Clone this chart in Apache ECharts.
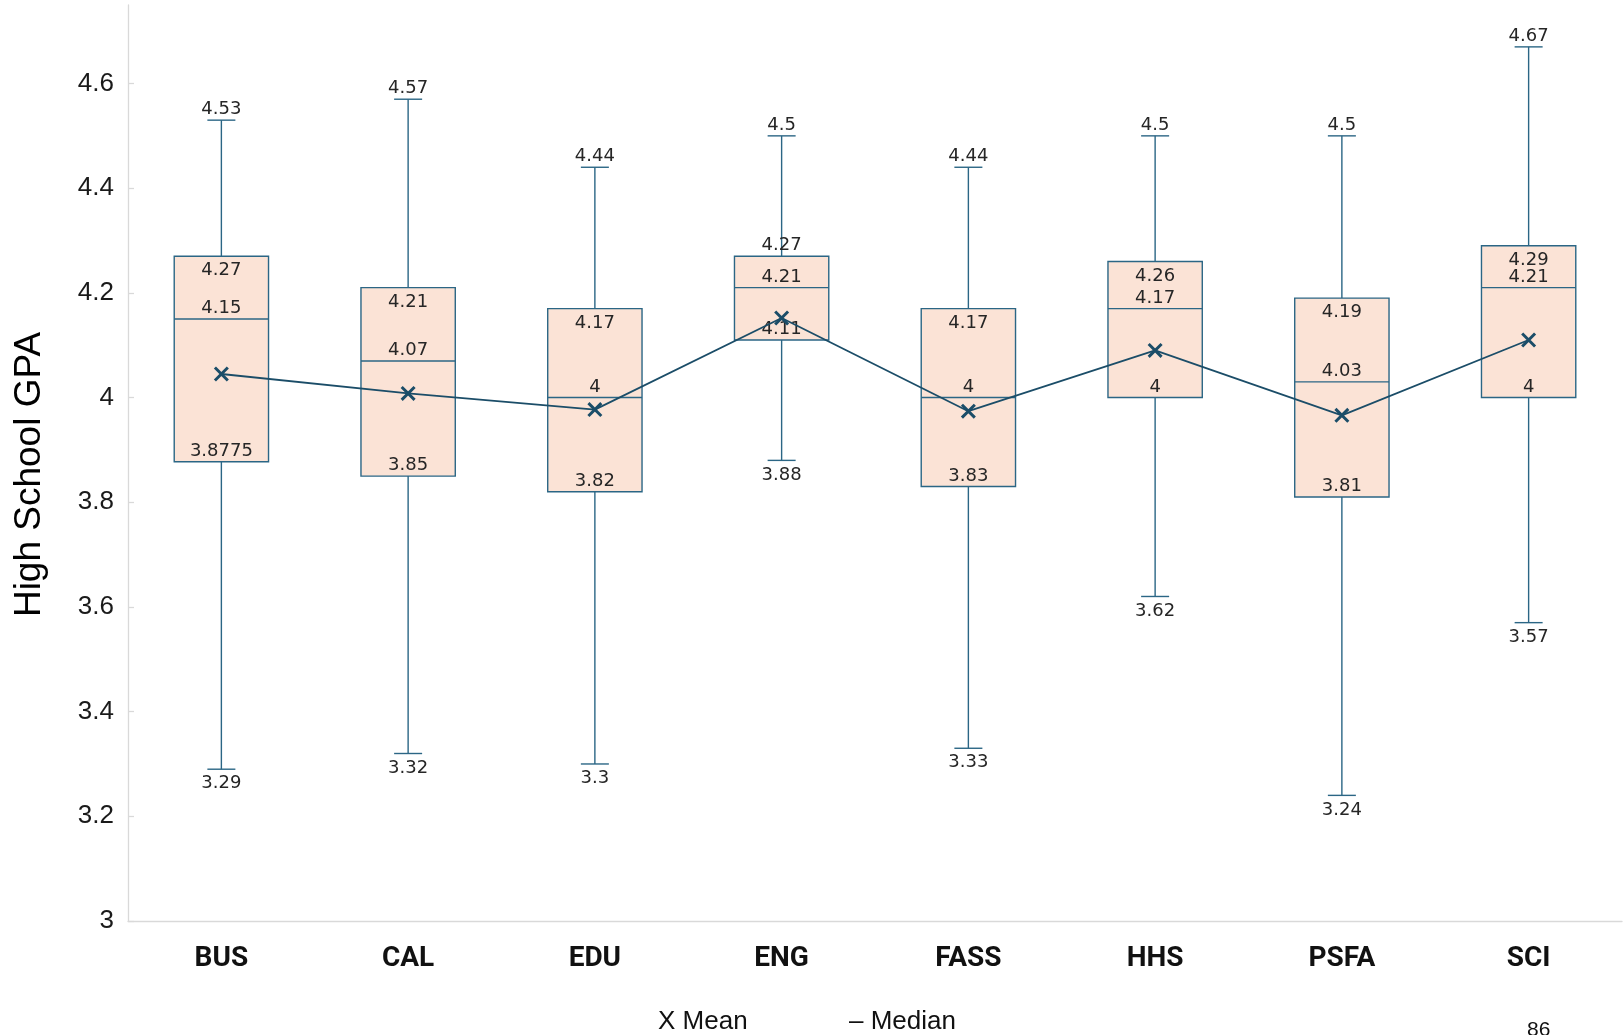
<!DOCTYPE html>
<html>
<head>
<meta charset="utf-8">
<script src="https://cdn.jsdelivr.net/npm/echarts@6/dist/echarts.min.js"></script>
<style>
html,body{margin:0;padding:0;background:#fff;}
#chart{width:1624px;height:1035px;}
</style>
</head>
<body>
<div id="chart"></div>
<script>
const categories = ['BUS', 'CAL', 'EDU', 'ENG', 'FASS', 'HHS', 'PSFA', 'SCI'];
const mins    = [3.29, 3.32, 3.3, 3.88, 3.33, 3.62, 3.24, 3.57];
const q1s     = [3.8775, 3.85, 3.82, 4.11, 3.83, 4, 3.81, 4];
const medians = [4.15, 4.07, 4, 4.21, 4, 4.17, 4.03, 4.21];
const q3s     = [4.27, 4.21, 4.17, 4.27, 4.17, 4.26, 4.19, 4.29];
const maxs    = [4.53, 4.57, 4.44, 4.5, 4.44, 4.5, 4.5, 4.67];
const means   = [4.045, 4.008, 3.977, 4.152, 3.974, 4.09, 3.966, 4.11];
const yTicks  = [3, 3.2, 3.4, 3.6, 3.8, 4, 4.2, 4.4, 4.6];

const STROKE = '#2B6685';
const FILL = '#FBE3D6';
const MEANC = '#1B4D68';
const LABC = '#262626';
const LABFONT = '18px "DejaVu Sans"';

const boxData = categories.map((c, i) => [i, mins[i], q1s[i], medians[i], q3s[i], maxs[i]]);

function txt(s, x, y) {
  return { type: 'text', z2: 5, style: { text: s, x: x, y: y, align: 'center', verticalAlign: 'middle', fill: LABC, font: LABFONT } };
}

function renderBox(params, api) {
  const i = api.value(0);
  const vMin = api.value(1), vQ1 = api.value(2), vMed = api.value(3), vQ3 = api.value(4), vMax = api.value(5);
  const cx = api.coord([i, vMin])[0];
  const yMin = api.coord([i, vMin])[1];
  const yQ1 = api.coord([i, vQ1])[1];
  const yMed = api.coord([i, vMed])[1];
  const yQ3 = api.coord([i, vQ3])[1];
  const yMax = api.coord([i, vMax])[1];
  const band = api.size([1, 0])[0];
  const bw = band * 0.505;
  const cw = band * 0.15;
  const ls = { stroke: STROKE, lineWidth: 1.4 };
  const up = 10.5, down = 14.5;
  const q3Above = (vQ3 - vMed) < 0.07;
  return {
    type: 'group',
    children: [
      { type: 'line', shape: { x1: cx, y1: yMax, x2: cx, y2: yQ3 }, style: ls },
      { type: 'line', shape: { x1: cx, y1: yQ1, x2: cx, y2: yMin }, style: ls },
      { type: 'line', shape: { x1: cx - cw / 2, y1: yMax, x2: cx + cw / 2, y2: yMax }, style: ls },
      { type: 'line', shape: { x1: cx - cw / 2, y1: yMin, x2: cx + cw / 2, y2: yMin }, style: ls },
      { type: 'rect', shape: { x: cx - bw / 2, y: yQ3, width: bw, height: yQ1 - yQ3 }, style: { fill: FILL, stroke: STROKE, lineWidth: 1.4 } },
      { type: 'line', shape: { x1: cx - bw / 2, y1: yMed, x2: cx + bw / 2, y2: yMed }, style: ls },
      txt(String(vMax), cx, yMax - up),
      txt(String(vMin), cx, yMin + down),
      txt(String(vQ3), cx, q3Above ? yQ3 - up : yQ3 + down),
      txt(String(vMed), cx, yMed - up),
      txt(String(vQ1), cx, yQ1 - up)
    ]
  };
}

const chart = echarts.init(document.getElementById('chart'), null, { renderer: 'canvas' });
chart.setOption({
  backgroundColor: '#ffffff',
  animation: false,
  grid: { left: 128, right: 2, top: 5, bottom: 114, containLabel: false },
  xAxis: {
    type: 'category',
    data: categories,
    axisLine: { show: true, lineStyle: { color: '#D9D9D9', width: 1.3 } },
    axisTick: { show: false },
    axisLabel: { margin: 24, fontFamily: 'Roboto', fontWeight: 'bold', fontSize: 28, color: '#111111' },
    splitLine: { show: false }
  },
  yAxis: {
    type: 'value',
    min: 3,
    max: 4.75,
    interval: 0.2,
    name: 'High School GPA',
    nameLocation: 'middle',
    nameGap: 80,
    nameRotate: 90,
    nameTextStyle: { fontFamily: '"Liberation Sans", Arial, sans-serif', fontSize: 37, color: '#000000', padding: [0, 23, 0, 0] },
    axisLine: { show: true, lineStyle: { color: '#D9D9D9', width: 1.3 } },
    axisTick: { show: true, inside: true, length: 6, lineStyle: { color: '#D9D9D9', width: 1.3 }, customValues: yTicks },
    axisLabel: { margin: 14, fontFamily: '"Liberation Sans", Arial, sans-serif', fontSize: 26, color: '#1a1a1a', customValues: yTicks, formatter: v => String(+v.toFixed(2)) },
    splitLine: { show: false }
  },
  graphic: [
    { type: 'text', left: 658, top: 1009, style: { text: 'X Mean', font: '26px "Liberation Sans", Arial, sans-serif', fill: '#111111' } },
    { type: 'text', left: 849, top: 1009, style: { text: '\u2013 Median', font: '26px "Liberation Sans", Arial, sans-serif', fill: '#111111' } },
    { type: 'text', left: 1527, top: 1020, style: { text: '86', font: '21px "Liberation Sans", Arial, sans-serif', fill: '#111111' } }
  ],
  series: [
    {
      type: 'custom',
      name: 'Box',
      renderItem: renderBox,
      data: boxData,
      encode: { x: 0, y: [1, 2, 3, 4, 5] },
      z: 2
    },
    {
      type: 'line',
      name: 'Mean',
      data: means,
      symbol: 'path://M0,1.4L1.4,0L10,8.6L8.6,10Z M8.6,0L10,1.4L1.4,10L0,8.6Z',
      symbolSize: 15,
      lineStyle: { color: MEANC, width: 1.8 },
      itemStyle: { color: MEANC },
      z: 3
    }
  ]
});
</script>
</body>
</html>
